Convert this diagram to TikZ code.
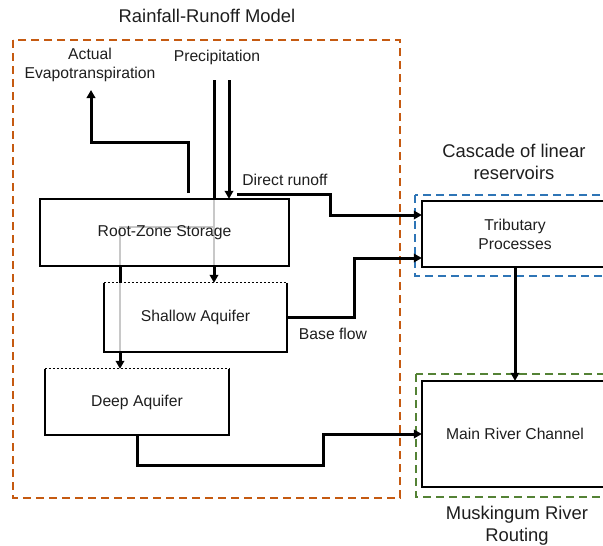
\documentclass[tikz,border=0pt]{standalone}
\usepackage{fontspec}
\setmainfont{Liberation Sans}
\usetikzlibrary{arrows.meta}
\definecolor{rrbrown}{RGB}{197,90,17}
\definecolor{rrblue}{RGB}{46,117,182}
\definecolor{rrgreen}{RGB}{84,130,53}
\definecolor{rrgray}{RGB}{200,200,200}
\definecolor{rrtext}{RGB}{30,30,30}
\begin{document}
\begin{tikzpicture}[x=1pt,y=-1pt,
  lbl/.style={font=\fontsize{15.7}{19}\selectfont, align=center, inner sep=0pt, text=rrtext},
  ttl/.style={font=\fontsize{18.4}{22}\selectfont, align=center, inner sep=0pt, text=rrtext},
  boxn/.style={inner sep=0pt, font=\fontsize{15.7}{19}\selectfont, align=center, text=rrtext},
  boxline/.style={line width=2pt, line join=miter},
  dotline/.style={line width=1pt, dash pattern=on 2pt off 2pt},
  group/.style={line width=2pt, dash pattern=on 8pt off 5pt},
  flow/.style={line width=3pt, line join=miter},
  arr/.style={flow, -{Triangle[length=8pt,width=8.5pt]}},
  grayflow/.style={line width=2.5pt, draw=rrgray, line join=miter}]
\useasboundingbox (0,0) rectangle (603,546);
\clip (0,0) rectangle (603,546);
% group frames
\draw[group, draw=rrbrown] (13,40) rectangle (400,498);
\draw[group, draw=rrblue] (415,195) rectangle (615,276);
\draw[group, draw=rrgreen] (416,374) rectangle (615,497);
% gray internal paths (behind the box texts)
\coordinate (g0) at (214,199);
\coordinate (g1) at (214,227);
\coordinate (g2) at (120,227);
\coordinate (g3) at (120,266);
\coordinate (g4) at (120,283);
\coordinate (g5) at (120,352);
\coordinate (g6) at (214,266);
\draw[grayflow] (g0) -- (g6);
\draw[grayflow] (g1) -- (g2) -- (g3);
\draw[grayflow] (g4) -- (g5);
% titles
\node[ttl] (t1) at (207,16) {Rainfall-Runoff Model};
\node[ttl] (t2) at (514,161.5) {Cascade of linear\\reservoirs};
\node[ttl] (t3) at (517,525.5) {Muskingum River\\Routing};
% labels
\node[lbl] (et) at (90,64.5) {Actual\\Evapotranspiration};
\node[lbl] (pr) at (217,57) {Precipitation};
\node[lbl] (drl) at (285,180) {Direct runoff};
\node[lbl] (bfl) at (333,334) {Base flow};
% boxes
\node[boxn, minimum width=249pt, minimum height=67pt] (rz) at (164.5,232.5) {Root-Zone Storage};
\node[boxn, minimum width=183pt, minimum height=69pt] (sa) at (195.5,317.5) {Shallow Aquifer};
\node[boxn, minimum width=184pt, minimum height=66pt] (da) at (137,402) {Deep Aquifer};
\node[boxn, minimum width=186pt, minimum height=66pt] (tp) at (515,234) {Tributary\\Processes};
\node[boxn, minimum width=186pt, minimum height=106pt] (mr) at (515,434) {Main River Channel};
% box outlines
\draw[boxline] (rz.north west) rectangle (rz.south east);
\draw[boxline] (sa.north west) -- (sa.south west) -- (sa.south east) -- (sa.north east);
\draw[dotline] (sa.north west) -- (sa.north east);
\draw[boxline] (da.north west) -- (da.south west) -- (da.south east) -- (da.north east);
\draw[dotline] (da.north west) -- (da.north east);
\draw[boxline] (tp.north west) rectangle (tp.south east);
\draw[boxline] (mr.north west) rectangle (mr.south east);
% precipitation
\coordinate (p1) at (214,80);
\coordinate (p2) at (229,80);
\draw[flow] (p1) -- (p1 |- rz.north);
\draw[arr] (p2) -- (p2 |- rz.north);
% evapotranspiration
\coordinate (e0) at (188,193);
\coordinate (e1) at (188,142);
\coordinate (e2) at (91,142);
\coordinate (e3) at (91,90);
\draw[arr] (e0) -- (e1) -- (e2) -- (e3);
% percolation arrows between boxes
\draw[arr] (g6) -- (g6 |- sa.north);
\draw[flow] (g3) -- (g4);
\draw[arr] (g5) -- (g5 |- da.north);
% direct runoff
\coordinate (d0) at (237,194);
\coordinate (d1) at (330,194);
\coordinate (d2) at (330,215);
\draw[arr] (d0) -- (d1) -- (d2) -- (d2 -| tp.west);
% base flow
\coordinate (b1) at (354,317.5);
\coordinate (b2) at (354,258);
\draw[arr] (sa.east) -- (b1) -- (b2) -- (b2 -| tp.west);
% deep aquifer outflow
\coordinate (q1) at (137,465);
\coordinate (q2) at (323,465);
\coordinate (q3) at (323,434);
\draw[arr] (da.south) -- (q1) -- (q2) -- (q3) -- (mr.west);
% tributary to main channel
\draw[arr] (tp.south) -- (mr.north);
\end{tikzpicture}
\end{document}
